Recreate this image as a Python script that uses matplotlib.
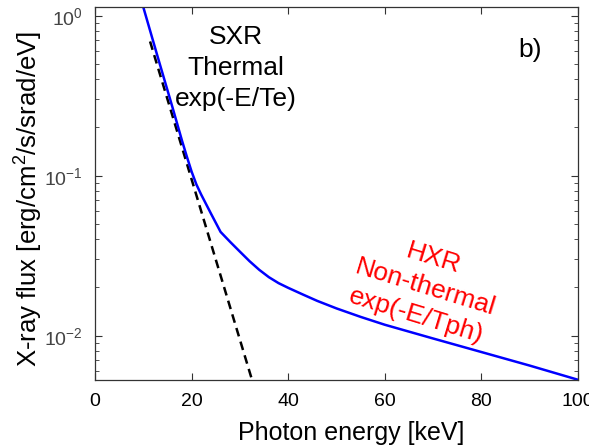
import numpy as np
import matplotlib
matplotlib.use("Agg")
import matplotlib.pyplot as plt
from matplotlib.ticker import LogLocator, NullFormatter

plt.rcParams['font.family'] = ['Liberation Sans', 'DejaVu Sans']
plt.rcParams['mathtext.fontset'] = 'custom'
plt.rcParams['mathtext.rm'] = 'Liberation Sans'

# total spectrum (thermal + non-thermal)
energy = [10, 13, 16, 18, 19, 20, 21, 22, 24, 26, 28, 30, 32, 34, 36, 38, 40,
          43, 46, 50, 55, 60, 70, 80, 90, 100]
flux = [1.13, 0.55, 0.27, 0.166, 0.132, 0.106, 0.088, 0.076, 0.058, 0.0445,
        0.0385, 0.0335, 0.0292, 0.0258, 0.0232, 0.0213, 0.0199, 0.0181,
        0.0165, 0.0148, 0.0131, 0.0117, 0.0096, 0.0079, 0.0065, 0.0053]

# thermal exponential (dashed)
energy_th = [11.4, 32.5]
flux_th = [0.69, 0.0053]

fig = plt.figure(figsize=(5.89, 4.45), dpi=100)
ax = fig.add_axes([0.1613, 0.146, 0.82, 0.8376])

ax.semilogy(energy_th, flux_th, '--', color='black', linewidth=1.8, dashes=(3.5, 2.2))
ax.semilogy(energy, flux, '-', color='blue', linewidth=1.8)

ax.set_xlim(0, 100)
ax.set_ylim(5.28e-3, 1.128)
ax.set_xticks([0, 20, 40, 60, 80, 100])
ax.yaxis.set_major_locator(LogLocator(base=10, numticks=10))
ax.yaxis.set_minor_locator(LogLocator(base=10, subs=np.arange(2, 10), numticks=10))
ax.yaxis.set_minor_formatter(NullFormatter())

ax.tick_params(which='both', direction='in', top=True, right=True, color='#333333')
ax.tick_params(which='major', length=5, labelsize=14, pad=9)
ax.tick_params(which='minor', length=3)
ax.tick_params(axis='y', labelcolor='#444444')
for s in ax.spines.values():
    s.set_color('#333333')
    s.set_linewidth(0.9)

ax.set_xlabel('Photon energy [keV]', fontsize=18)
ax.set_ylabel('X-ray flux [erg/cm$^2$/s/srad/eV]', fontsize=18.5)
ax.xaxis.set_label_coords(0.53, -0.110)
ax.yaxis.set_label_coords(-0.105, 0.487)

ax.text(29.2, 0.47, 'SXR\nThermal\nexp(-E/Te)', fontsize=19, ha='center', va='center',
        linespacing=1.35)
ax.text(68.3, 0.0201, 'HXR\nNon-thermal\nexp(-E/Tph)', fontsize=19, color='red',
        ha='center', va='center', rotation=-17, rotation_mode='anchor',
        multialignment='center', linespacing=1.3)
ax.text(90, 0.61, 'b)', fontsize=19, ha='center', va='center')

fig.savefig('out.png', dpi=100)
